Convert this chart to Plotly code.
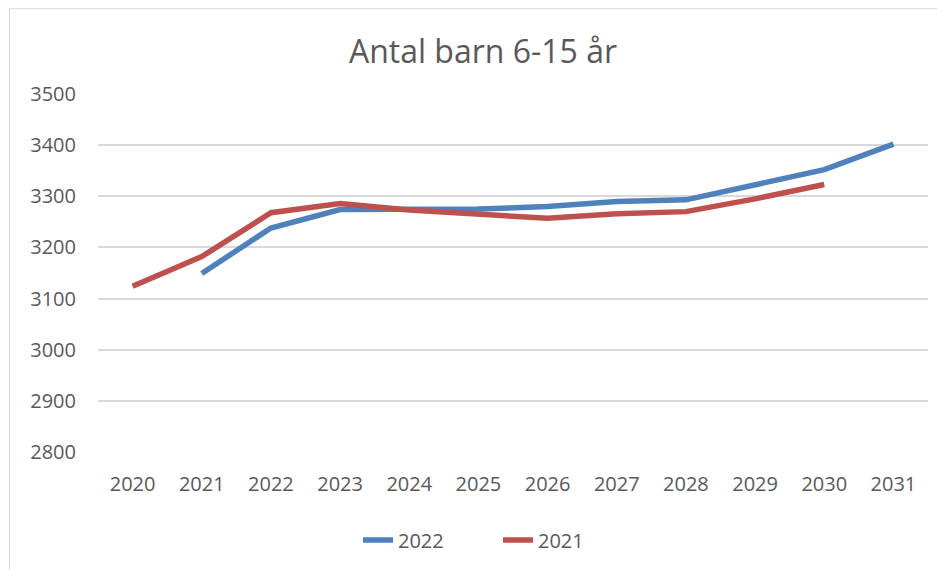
import plotly.graph_objects as go

years = ["2020", "2021", "2022", "2023", "2024", "2025", "2026", "2027", "2028", "2029", "2030", "2031"]
s2022 = [None, 3149, 3238, 3274, 3275, 3275, 3280, 3290, 3293, 3323, 3352, 3402]
s2021 = [3124, 3182, 3268, 3286, 3273, 3265, 3257, 3266, 3270, 3295, 3323, None]
y_ticks = [2800, 2900, 3000, 3100, 3200, 3300, 3400, 3500]

FONT = "Open Sans, Liberation Sans, sans-serif"
GREY = "#595959"

# page body has an 8px margin, so the figure is sized/placed to compensate
W, H = 937, 562
L, R, T, B = 90, 17, 86, 117
PW, PH = W - L - R, H - T - B

fig = go.Figure()
fig.add_trace(go.Scatter(x=years, y=s2022, name="2022", mode="lines",
                         line=dict(color="#4F81BD", width=5.5)))
fig.add_trace(go.Scatter(x=years, y=s2021, name="2021", mode="lines",
                         line=dict(color="#C0504D", width=5.5)))

fig.update_layout(
    width=W, height=H,
    margin=dict(l=L, r=R, t=T, b=B),
    paper_bgcolor="white", plot_bgcolor="white",
    title=dict(text="Antal barn 6-15 år", x=475 / W, xanchor="center",
               y=1 - 44 / H, yanchor="middle",
               font=dict(family=FONT, size=32, color=GREY)),
    font=dict(family=FONT, size=20, color=GREY),
    showlegend=True,
    legend=dict(orientation="h", x=(490 - L) / PW, xanchor="center", y=(445 - 532) / PH,
                yanchor="middle", entrywidth=95, entrywidthmode="pixels",
                font=dict(size=20, color=GREY)),
    xaxis=dict(type="category", range=[-0.5, 11.5], showgrid=False, showline=False,
               zeroline=False, ticklabelstandoff=18, tickfont=dict(size=20, color=GREY)),
    yaxis=dict(range=[2800, 3500], tickvals=y_ticks, showgrid=True, gridcolor="#D9D9D9",
               gridwidth=1.5, zeroline=False, showline=False, ticklabelstandoff=21,
               tickfont=dict(size=20, color=GREY)),
)
fig.add_shape(type="rect", xref="paper", yref="paper",
              x0=(1.5 - L) / PW, x1=(940 - L) / PW, y0=(445 - 600) / PH, y1=(445 - 0.5) / PH,
              line=dict(color="#D9D9D9", width=1), layer="below")

fig.write_html("out.html")
